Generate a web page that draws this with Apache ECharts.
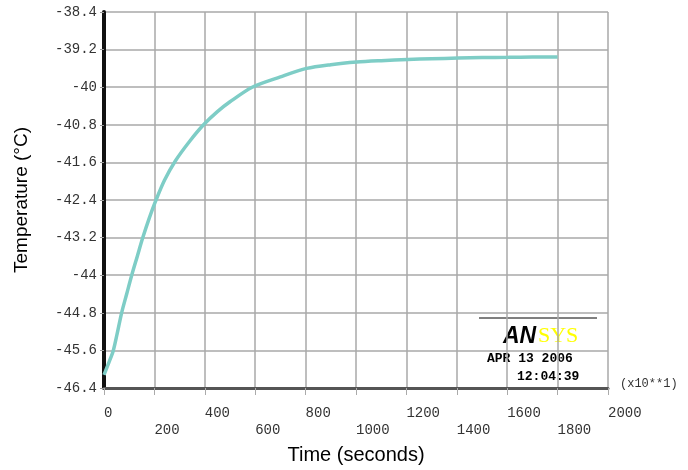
<!DOCTYPE html>
<html>
<head>
<meta charset="utf-8">
<script src="https://cdn.jsdelivr.net/npm/echarts@6/dist/echarts.min.js"></script>
<style>html,body{margin:0;padding:0;background:#fff;}#c{width:688px;height:470px;}</style>
</head>
<body>
<div id="c"></div>
<script>
// Time (units of x10 s as printed by ANSYS) and temperature (°C)
var times = [0, 20, 37, 52, 70, 90, 110, 132, 154, 180, 205, 240, 283, 340, 395, 450, 500, 588, 700, 804, 900, 1003, 1100, 1205, 1300, 1405, 1500, 1605, 1700, 1800];
var temps = [-46.12, -45.85, -45.6, -45.25, -44.8, -44.4, -44.0, -43.6, -43.2, -42.78, -42.42, -41.98, -41.57, -41.15, -40.8, -40.52, -40.31, -40.0, -39.78, -39.6, -39.52, -39.465, -39.435, -39.41, -39.395, -39.38, -39.37, -39.365, -39.36, -39.36];
var xTickMin = 0, xTickMax = 2000, xTickStep = 200;
var yTickMin = -46.4, yTickMax = -38.4, yTickStep = 0.8;
var yTitle = 'Temperature (°C)';
var xTitle = 'Time (seconds)';
var scaleNote = '(x10**1)';
var stampDate = 'APR 13 2006';
var stampTime = '12:04:39';

var data = times.map(function (t, i) { return [t, temps[i]]; });
var mono = '"Liberation Mono", "DejaVu Sans Mono", monospace';

var chart = echarts.init(document.getElementById('c'));
chart.setOption({
  animation: false,
  backgroundColor: '#ffffff',
  grid: { left: 104, right: 80, top: 12, bottom: 80, containLabel: false },
  xAxis: {
    type: 'value', min: xTickMin, max: xTickMax, interval: xTickStep,
    name: xTitle, nameLocation: 'middle', nameGap: 57,
    nameTextStyle: { fontFamily: '"Liberation Sans", Arial, sans-serif', fontSize: 20, color: '#000' },
    axisLine: { show: true, onZero: false, lineStyle: { color: '#555', width: 3 } },
    axisTick: { show: true, length: 7, lineStyle: { color: '#aaa', width: 1 } },
    axisLabel: {
      margin: 17, align: 'left', fontFamily: mono, fontSize: 14, color: '#333', lineHeight: 17,
      formatter: function (v, i) { return (Math.round(v / xTickStep) % 2 === 1 ? '\n' : '') + Math.round(v); }
    },
    splitLine: { show: true, lineStyle: { color: '#a8a8a8', width: 1.5 } }
  },
  yAxis: {
    type: 'value', min: yTickMin, max: yTickMax, interval: yTickStep,
    name: yTitle, nameLocation: 'middle', nameGap: 73, nameRotate: 90,
    nameTextStyle: { fontFamily: '"Liberation Sans", Arial, sans-serif', fontSize: 19, color: '#000' },
    axisLine: { show: true, onZero: false, lineStyle: { color: '#111', width: 4 } },
    axisTick: { show: true, length: 4, lineStyle: { color: '#999', width: 1 } },
    axisLabel: {
      margin: 7, fontFamily: mono, fontSize: 14, color: '#333',
      formatter: function (v) { return String(Number(v.toFixed(1))); }
    },
    splitLine: { show: true, lineStyle: { color: '#a8a8a8', width: 1.5 } }
  },
  series: [{
    type: 'line', data: data, smooth: 0.3, showSymbol: false,
    lineStyle: { color: '#7ecdc6', width: 3.5 }
  }],
  graphic: [
    { type: 'text', left: 620, top: 378, style: { text: scaleNote, font: '12px ' + mono, fill: '#333' } },
    { type: 'line', shape: { x1: 479, y1: 318, x2: 597, y2: 318 }, style: { stroke: '#000', lineWidth: 1 } },
    { type: 'text', left: 503, top: 325, style: { text: 'AN', font: 'italic bold 23px "Liberation Sans", Arial, sans-serif', fill: '#000' } },
    { type: 'text', left: 538, top: 325, style: { text: 'SYS', font: '22px "Liberation Serif", serif', fill: '#ffff00' } },
    { type: 'text', left: 487, top: 352, style: { text: stampDate, font: 'bold 13px ' + mono, fill: '#000' } },
    { type: 'text', left: 517, top: 370, style: { text: stampTime, font: 'bold 13px ' + mono, fill: '#000' } }
  ]
});
</script>
</body>
</html>
